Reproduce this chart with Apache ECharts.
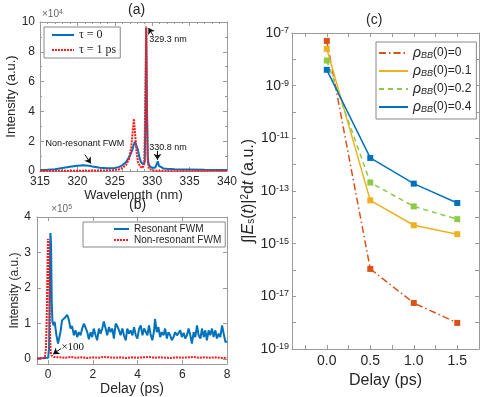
<!DOCTYPE html>
<html>
<head>
<meta charset="utf-8">
<script src="https://cdn.jsdelivr.net/npm/echarts@6/dist/echarts.min.js"></script>
<style>
  html, body { margin: 0; padding: 0; background: #fff; }
  #chart { width: 500px; height: 397px; }
</style>
</head>
<body>
<div id="chart"></div>
<script>
// (a) spectra, intensity in units of 1e4
const wlTau0 = [315, 316, 317, 318, 319, 320, 320.8, 321.5, 322, 323, 324, 325, 325.5, 326, 326.5, 327, 327.3, 327.5, 327.7, 327.9, 328.1, 328.3, 328.5, 328.8, 329.0, 329.1, 329.2, 329.3, 329.4, 329.5, 329.7, 330.0, 330.4, 330.6, 330.75, 330.9, 331.1, 331.5, 332, 333, 335, 337, 340];
const intTau0 = [0.05, 0.08, 0.12, 0.2, 0.28, 0.35, 0.38, 0.36, 0.3, 0.22, 0.18, 0.2, 0.26, 0.38, 0.6, 1.0, 1.35, 1.7, 1.97, 1.85, 1.4, 0.9, 0.6, 0.45, 0.6, 3.5, 9.6, 4.0, 1.0, 0.5, 0.3, 0.22, 0.22, 0.35, 0.65, 0.35, 0.22, 0.17, 0.15, 0.12, 0.1, 0.08, 0.07];
const wlTau1 = [315, 318, 321, 323, 324.5, 325.5, 326, 326.5, 326.9, 327.2, 327.4, 327.55, 327.7, 327.9, 328.1, 328.4, 328.7, 328.95, 329.1, 329.2, 329.3, 329.4, 329.55, 329.8, 330.2, 331, 335, 340];
const intTau1 = [0.02, 0.02, 0.02, 0.03, 0.05, 0.1, 0.2, 0.4, 0.8, 1.6, 2.7, 3.5, 2.6, 1.3, 0.6, 0.3, 0.2, 0.5, 5.5, 9.7, 4.5, 0.8, 0.15, 0.05, 0.03, 0.02, 0.02, 0.02];

// (b) intensity vs delay, units of 1e5
const resDelay = [-0.5, -0.2, 0.0, 0.04, 0.07, 0.1, 0.13, 0.16, 0.19, 0.25, 0.29, 0.37, 0.44,
  0.55, 0.62, 0.70, 0.77, 0.85, 0.92, 1.00, 1.07, 1.15, 1.22,
  1.30, 1.37, 1.45, 1.52, 1.60, 1.67, 1.75, 1.82, 1.90, 1.97,
  2.04, 2.12, 2.19, 2.27, 2.34, 2.42, 2.49, 2.57, 2.64, 2.72,
  2.79, 2.87, 2.94, 3.02, 3.09, 3.17, 3.24, 3.32, 3.39, 3.47,
  3.54, 3.62, 3.69, 3.77, 3.84, 3.92, 3.99, 4.07, 4.14, 4.22,
  4.29, 4.37, 4.44, 4.51, 4.59, 4.66, 4.74, 4.78,
  4.86, 4.93, 5.01, 5.08, 5.16, 5.23, 5.31, 5.38, 5.46, 5.53,
  5.61, 5.68, 5.76, 5.83, 5.91, 5.98, 6.06, 6.13, 6.21, 6.28,
  6.36, 6.43, 6.51, 6.58, 6.66, 6.73, 6.81, 6.88, 6.96, 7.03,
  7.10, 7.18, 7.25, 7.33, 7.40, 7.48, 7.55, 7.63, 7.70, 7.78,
  7.85, 7.93, 8.00];
const resValue = [0.02, 0.03, 0.04, 0.3, 2.0, 3.55, 3.2, 1.6, 1.05, 0.95, 1.05, 0.67, 0.44,
  0.76, 1.09, 1.04, 1.18, 1.25, 1.12, 0.86, 0.93, 0.67, 0.81,
  0.62, 0.76, 0.67, 0.86, 1.0, 1.04, 0.76, 0.56, 0.76, 0.62,
  0.86, 0.67, 0.53, 0.86, 0.72, 0.86, 1.06, 0.86, 0.67, 0.9,
  0.76, 0.86, 0.58, 1.0, 0.93, 0.81, 0.67, 0.86, 0.67, 0.53,
  0.86, 0.72, 0.81, 0.67, 0.9, 0.67, 0.58, 0.86, 0.95, 0.67,
  0.86, 0.9, 0.67, 0.95, 0.67, 0.53, 0.81, 1.13,
  0.76, 0.9, 0.62, 0.76, 0.67, 0.86, 0.58, 0.76, 0.67, 0.53,
  0.62, 0.76, 0.67, 0.62, 0.81, 0.62, 0.74, 0.58, 0.67, 0.86,
  0.67, 0.44, 0.76, 0.62, 0.95, 0.67, 0.58, 0.86, 0.62, 0.81,
  0.53, 0.81, 0.67, 0.86, 0.62, 0.81, 0.58, 0.72, 0.62, 0.95,
  0.72, 0.48, 0.5];
const nonresDelay = [-0.5, -0.15, -0.1, -0.07, -0.04, -0.01, 0.02, 0.05, 0.08, 0.11, 0.15, 0.2, 0.25,
  0.5, 0.75, 1.0, 1.25, 1.5, 1.75, 2.0, 2.25, 2.5, 2.75, 3.0, 3.25, 3.5, 3.75, 4.0, 4.25,
  4.5, 4.75, 5.0, 5.25, 5.5, 5.75, 6.0, 6.25, 6.5, 6.75, 7.0, 7.25, 7.5, 7.75, 8.0];
const nonresValue = [0.02, 0.03, 0.3, 1.0, 2.2, 3.38, 3.3, 2.2, 0.8, 0.2, 0.1, 0.07, 0.06,
  0.05, 0.04, 0.06, 0.04, 0.05, 0.03, 0.05, 0.04, 0.06, 0.05, 0.04, 0.05, 0.03, 0.05, 0.04, 0.05,
  0.06, 0.04, 0.05, 0.04, 0.03, 0.05, 0.04, 0.05, 0.06, 0.04, 0.05, 0.04, 0.05, 0.03, 0.04];

// (c) integrated signal vs delay
const cDelays = [0, 0.5, 1.0, 1.5];
const rhoNames = ['0', '0.1', '0.2', '0.4'];
const rho0 = [5e-8, 1.1e-16, 5.6e-18, 9.8e-19];
const rho01 = [2.5e-8, 4.4e-14, 5e-15, 2.3e-15];
const rho02 = [9e-9, 2.1e-13, 2.6e-14, 8.5e-15];
const rho04 = [4e-9, 1.8e-12, 1.9e-13, 3.5e-14];

const blue = '#0072BD';
const red = '#FF1A1A';
const rhoColors = ['#D95319', '#EDB120', '#8CCB45', '#0072BD'];
const axisColor = '#9a9a9a';
const textColor = '#262626';
const sans = 'Liberation Sans';
const serif = 'Liberation Serif';

const pairs = (xs, ys) => xs.map((x, i) => [x, ys[i]]);

function axis(opt) {
  return Object.assign({
    axisLine: { onZero: false, lineStyle: { color: axisColor } },
    axisTick: { inside: true, length: 4, lineStyle: { color: axisColor } },
    splitLine: { show: false },
    axisLabel: { color: textColor, fontFamily: sans, fontSize: 12, margin: 5 },
    nameTextStyle: { color: textColor, fontFamily: sans, fontSize: 13 }
  }, opt);
}
function mirror(a, position) {
  return Object.assign({}, a, { position, name: '', axisLabel: { show: false } });
}

// axes (a)
const xa = axis({ type: 'value', gridIndex: 0, position: 'bottom', min: 315, max: 340, interval: 5,
  minorTick: { show: true, splitNumber: 5, length: 2, lineStyle: { color: axisColor } },
  name: 'Wavelength (nm)', nameLocation: 'middle', nameGap: 15 });
const ya = axis({ type: 'value', gridIndex: 0, position: 'left', min: 0, max: 10, interval: 2,
  minorTick: { show: true, splitNumber: 2, length: 2, lineStyle: { color: axisColor } },
  name: 'Intensity (a.u.)', nameLocation: 'middle', nameGap: 18 });
const yaMul = { type: 'value', gridIndex: 0, position: 'left', min: 0, max: 10, show: true,
  axisLine: { show: false }, axisTick: { show: false }, axisLabel: { show: false }, splitLine: { show: false },
  name: '×10{s|4}', nameLocation: 'end', nameGap: 3,
  nameTextStyle: { color: '#666', fontFamily: sans, fontSize: 10, align: 'left', padding: [0, 0, 0, 2],
    rich: { s: { fontSize: 7, fontFamily: sans, color: '#666', verticalAlign: 'top' } } } };

// axes (b)
const xb = axis({ type: 'value', gridIndex: 1, position: 'bottom', min: -0.5, max: 8, minInterval: 2, maxInterval: 2,
  axisLabel: { color: textColor, fontFamily: sans, fontSize: 12, margin: 5, showMinLabel: false },
  name: 'Delay (ps)', nameLocation: 'middle', nameGap: 11,
  nameTextStyle: { color: textColor, fontFamily: sans, fontSize: 14 } });
const yb = axis({ type: 'value', gridIndex: 1, position: 'left', min: -0.14, max: 4, minInterval: 1, maxInterval: 1,
  axisLabel: { color: textColor, fontFamily: sans, fontSize: 12, margin: 6,
    formatter: v => (Number.isInteger(v) ? String(v) : '') },
  name: 'Intensity (a.u.)', nameLocation: 'middle', nameGap: 15,
  nameTextStyle: { color: textColor, fontFamily: sans, fontSize: 12 } });
const ybMul = { type: 'value', gridIndex: 1, position: 'left', min: -0.14, max: 4, show: true,
  axisLine: { show: false }, axisTick: { show: false }, axisLabel: { show: false }, splitLine: { show: false },
  name: '×10{s|5}', nameLocation: 'end', nameGap: 3,
  nameTextStyle: { color: '#666', fontFamily: sans, fontSize: 10, align: 'left', padding: [0, 0, 0, 3],
    rich: { s: { fontSize: 7, fontFamily: sans, color: '#666', verticalAlign: 'top' } } } };

// axes (c), y holds log10 of the signal
const xc = axis({ type: 'value', gridIndex: 2, position: 'bottom', min: -0.4, max: 1.75, minInterval: 0.25, maxInterval: 0.25,
  axisLabel: { color: textColor, fontFamily: sans, fontSize: 14, margin: 5,
    formatter: v => (v >= 0 && Math.abs(v * 2 - Math.round(v * 2)) < 1e-6 && v <= 1.5 ? v.toFixed(1) : '') },
  name: 'Delay (ps)', nameLocation: 'middle', nameGap: 21,
  nameTextStyle: { color: textColor, fontFamily: sans, fontSize: 16 } });
const yc = axis({ type: 'value', gridIndex: 2, position: 'left', min: -19, max: -7, interval: 1,
  axisLabel: { color: textColor, fontFamily: sans, fontSize: 14, margin: 3,
    formatter: v => (Math.abs(v % 2) === 1 ? '10{s|' + v + '}' : ''),
    rich: { s: { fontSize: 9, fontFamily: sans, color: textColor, verticalAlign: 'top' } } },
  name: '∫|{i|E}{sub|s}({i|t})|{sup|2}d{i|t} (a.u.)', nameLocation: 'middle', nameGap: 29,
  nameTextStyle: { color: textColor, fontFamily: sans, fontSize: 16,
    rich: {
      i: { fontStyle: 'italic', fontFamily: sans, fontSize: 16, color: textColor },
      sub: { fontSize: 10, fontFamily: sans, color: textColor, verticalAlign: 'bottom' },
      sup: { fontSize: 10, fontFamily: sans, color: textColor, verticalAlign: 'top' }
    } } });

const rhoRich = {
  r: { fontStyle: 'italic', fontFamily: sans, fontSize: 14, color: textColor },
  b: { fontStyle: 'italic', fontFamily: sans, fontSize: 9, color: textColor, verticalAlign: 'bottom' },
  n: { fontFamily: sans, fontSize: 12, color: textColor }
};

const rhoSeries = [rho0, rho01, rho02, rho04].map((vals, k) => ({
  type: 'line', name: 'rho' + rhoNames[k], xAxisIndex: 4, yAxisIndex: 6,
  data: pairs(cDelays, vals.map(Math.log10)),
  symbol: 'rect', symbolSize: 6,
  lineStyle: { color: rhoColors[k], width: 1.5, type: [[7, 3, 1.5, 3], 'solid', [5, 4], 'solid'][k] },
  itemStyle: { color: rhoColors[k] },
  z: 3 + k
}));

const arrowLine = (data) => ({
  silent: true, animation: false, symbol: ['none', 'arrow'], symbolSize: 6,
  lineStyle: { color: '#111', width: 1, type: 'solid' }, label: { show: false },
  data: data.map(d => [{ coord: d[0] }, { coord: d[1] }])
});
const textPoints = (data, font, size) => ({
  silent: true, animation: false, symbol: 'rect', symbolSize: 1,
  itemStyle: { color: 'rgba(0,0,0,0)' },
  label: { show: true, position: 'inside', color: '#111', fontFamily: font, fontSize: size, formatter: p => p.name },
  data: data.map(d => ({ name: d[0], coord: d[1] }))
});

const chart = echarts.init(document.getElementById('chart'));
chart.setOption({
  animation: false,
  backgroundColor: '#fff',
  grid: [
    { left: 40, right: 273, top: 22, bottom: 226 },
    { left: 37, right: 273, top: 217, bottom: 32 },
    { left: 292, right: 21, top: 33, bottom: 48 }
  ],
  xAxis: [xa, mirror(xa, 'top'), xb, mirror(xb, 'top'), xc, mirror(xc, 'top')],
  yAxis: [ya, mirror(ya, 'right'), yaMul, yb, mirror(yb, 'right'), ybMul, yc, mirror(yc, 'right')],
  graphic: [
    { type: 'text', left: 128, top: 3, style: { text: '(a)', font: '14px Liberation Sans', fill: textColor } },
    { type: 'text', left: 129, top: 198, style: { text: '(b)', font: '14px Liberation Sans', fill: textColor } },
    { type: 'text', left: 366, top: 13, style: { text: '(c)', font: '14px Liberation Sans', fill: textColor } }
  ],
  legend: [
    {
      data: ['τ = 0', 'τ = 1 ps'], left: 44, top: 27, orient: 'vertical',
      itemWidth: 22, itemHeight: 10, itemGap: 3, padding: [2, 4, 2, 7],
      backgroundColor: '#fff', borderColor: '#888', borderWidth: 1, borderRadius: 0,
      itemStyle: { opacity: 0 },
      textStyle: { fontFamily: serif, fontSize: 12, color: textColor }
    },
    {
      data: ['Resonant FWM', 'Non-resonant FWM'], left: 83, top: 222, orient: 'vertical',
      itemWidth: 15, itemHeight: 10, itemGap: 1, padding: [2, 4, 2, 30],
      backgroundColor: '#fff', borderColor: '#888', borderWidth: 1, borderRadius: 0,
      itemStyle: { opacity: 0 },
      textStyle: { fontFamily: sans, fontSize: 10, color: textColor }
    },
    {
      data: rhoNames.map(n => 'rho' + n), left: 376, top: 42, orient: 'vertical',
      itemWidth: 29, itemHeight: 12, itemGap: 4, padding: [4, 5, 5, 2],
      backgroundColor: '#fff', borderColor: '#888', borderWidth: 1, borderRadius: 0,
      itemStyle: { opacity: 0 },
      formatter: name => '{r|ρ}{b|BB}{n|(0)=' + name.slice(3) + '}',
      textStyle: { fontFamily: sans, fontSize: 12, color: textColor, rich: rhoRich }
    }
  ],
  series: [
    {
      type: 'line', name: 'τ = 0', xAxisIndex: 0, yAxisIndex: 0, showSymbol: false, symbol: 'none',
      data: pairs(wlTau0, intTau0), lineStyle: { color: blue, width: 2 }, itemStyle: { color: blue }, z: 2,
      markLine: arrowLine([
        [[330.13, 9.08], [329.5, 9.6]],
        [[330.7, 1.35], [330.7, 0.75]],
        [[321.0, 1.1], [321.8, 0.5]]
      ]),
      markPoint: textPoints([
        ['329.3 nm', [332.1, 8.8]],
        ['330.8 nm', [332.1, 1.6]],
        ['Non-resonant FWM', [321.0, 1.85]]
      ], sans, 9)
    },
    {
      type: 'line', name: 'τ = 1 ps', xAxisIndex: 0, yAxisIndex: 0, showSymbol: false, symbol: 'none',
      data: pairs(wlTau1, intTau1), lineStyle: { color: red, width: 2, type: [2, 1] }, itemStyle: { color: red }, z: 3
    },
    {
      type: 'line', name: 'Resonant FWM', xAxisIndex: 2, yAxisIndex: 3, showSymbol: false, symbol: 'none',
      data: pairs(resDelay, resValue), lineStyle: { color: blue, width: 2 }, itemStyle: { color: blue }, z: 2,
      markLine: arrowLine([[[0.58, 0.3], [0.22, 0.14]]]),
      markPoint: textPoints([['×100', [1.1, 0.33]]], serif, 11)
    },
    {
      type: 'line', name: 'Non-resonant FWM', xAxisIndex: 2, yAxisIndex: 3, showSymbol: false, symbol: 'none',
      data: pairs(nonresDelay, nonresValue), lineStyle: { color: red, width: 2, type: [2, 1] }, itemStyle: { color: red }, z: 3
    }
  ].concat(rhoSeries)
});
</script>
</body>
</html>
